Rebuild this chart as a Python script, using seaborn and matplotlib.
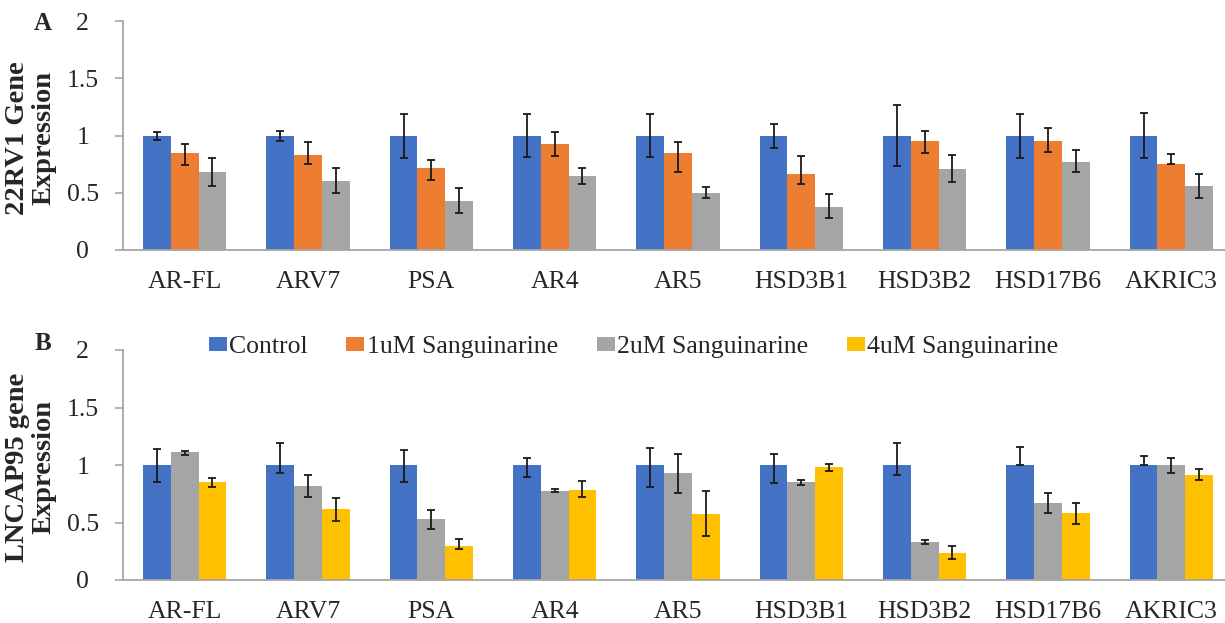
import numpy as np
import pandas as pd
import matplotlib
matplotlib.use("Agg")
import matplotlib.pyplot as plt
import seaborn as sns
from matplotlib.patches import Patch
from matplotlib.ticker import FuncFormatter

sns.set_style("white")
plt.rcParams['font.family'] = ['Liberation Serif', 'DejaVu Serif']

genes = ["AR-FL", "ARV7", "PSA", "AR4", "AR5", "HSD3B1", "HSD3B2", "HSD17B6", "AKRIC3"]
treatments = ["Control", "1uM Sanguinarine", "2uM Sanguinarine", "4uM Sanguinarine"]
colors = ["#4472C4", "#ED7D31", "#A5A5A5", "#FFC000"]

# Panel A: 22RV1 (Control, 1uM, 2uM)
a_ctrl = [1.0, 1.0, 1.0, 1.0, 1.0, 1.0, 1.0, 1.0, 1.0]
a_ctrl_lo = [0.04, 0.05, 0.2, 0.19, 0.19, 0.11, 0.27, 0.2, 0.2]
a_ctrl_hi = [0.03, 0.04, 0.19, 0.19, 0.19, 0.1, 0.27, 0.19, 0.2]
a_1um = [0.85, 0.83, 0.72, 0.925, 0.85, 0.66, 0.956, 0.948, 0.75]
a_1um_lo = [0.11, 0.08, 0.11, 0.1, 0.17, 0.08, 0.11, 0.09, 0.0]
a_1um_hi = [0.08, 0.115, 0.07, 0.105, 0.095, 0.16, 0.085, 0.116, 0.085]
a_2um = [0.68, 0.6, 0.43, 0.645, 0.5, 0.375, 0.71, 0.77, 0.56]
a_2um_lo = [0.12, 0.1, 0.11, 0.065, 0.05, 0.095, 0.12, 0.087, 0.104]
a_2um_hi = [0.12, 0.115, 0.11, 0.075, 0.05, 0.115, 0.12, 0.1, 0.106]

# Panel B: LNCAP95 (Control, 2uM, 4uM)
b_ctrl = [1.0, 1.0, 1.0, 1.0, 1.0, 1.0, 1.0, 1.0, 1.0]
b_ctrl_lo = [0.145, 0.07, 0.15, 0.1, 0.195, 0.16, 0.09, 0.0, 0.0]
b_ctrl_hi = [0.14, 0.19, 0.13, 0.064, 0.15, 0.1, 0.19, 0.16, 0.08]
b_2um = [1.11, 0.82, 0.53, 0.775, 0.93, 0.85, 0.333, 0.667, 1.0]
b_2um_lo = [0.02, 0.1, 0.09, 0.012, 0.17, 0.02, 0.017, 0.082, 0.07]
b_2um_hi = [0.015, 0.095, 0.08, 0.018, 0.17, 0.02, 0.017, 0.093, 0.06]
b_4um = [0.85, 0.616, 0.3, 0.785, 0.57, 0.98, 0.238, 0.58, 0.913]
b_4um_lo = [0.04, 0.105, 0.03, 0.065, 0.19, 0.03, 0.058, 0.09, 0.046]
b_4um_hi = [0.04, 0.095, 0.055, 0.075, 0.2, 0.03, 0.06, 0.092, 0.05]

W, H = 1225, 623
fig = plt.figure(figsize=(W / 100, H / 100), dpi=100)
ax1 = fig.add_axes([123 / W, 1 - 250 / H, 1110 / W, 229 / H])
ax2 = fig.add_axes([123 / W, 1 - 580 / H, 1110 / W, 230 / H])

axis_grey = "#a6a6a6"


def draw_panel(ax, series, names, ylabel):
    rows = []
    for vals, name in zip(series, names):
        for g, v in zip(genes, vals[0]):
            rows.append({"gene": g, "treatment": name, "value": v})
    df = pd.DataFrame(rows)
    pal = [colors[treatments.index(n)] for n in names]
    sns.barplot(data=df, x="gene", y="value", hue="treatment", hue_order=names,
                order=genes, palette=pal, saturation=1, width=0.675,
                errorbar=None, linewidth=0, legend=False, ax=ax)
    # error bars from the read-off low/high values
    for cont, (vals, lo, hi) in zip(ax.containers, series):
        xs = [b.get_x() + b.get_width() / 2 for b in cont]
        ax.errorbar(xs, vals, yerr=[lo, hi], fmt="none", ecolor="#1a1a1a",
                    elinewidth=1.3, capsize=3.2, capthick=1.3, zorder=5)

    ax.set_ylim(0, 2)
    ax.set_xlim(-0.5, 8.5)
    ax.set_yticks([0, 0.5, 1, 1.5, 2])
    ax.yaxis.set_major_formatter(FuncFormatter(lambda v, p: f"{v:g}"))
    ax.set_xticks(np.arange(-0.5, 9, 1), minor=True)
    ax.tick_params(axis="x", which="major", length=0, pad=15, labelsize=18.5)
    ax.tick_params(axis="x", which="minor", length=6, width=1.2, color=axis_grey)
    ax.tick_params(axis="y", length=6, width=1.2, color=axis_grey, pad=23, labelsize=18.5,
                   left=True)
    plt.setp(ax.get_yticklabels(), ha="center")
    for s in ["top", "right"]:
        ax.spines[s].set_visible(False)
    for s in ["left", "bottom"]:
        ax.spines[s].set_color(axis_grey)
        ax.spines[s].set_linewidth(1.3)
    ax.set_xlabel("")
    ax.set_ylabel(ylabel, fontsize=20.5, fontweight="bold", linespacing=1.1, va="center")
    ax.yaxis.set_label_coords(-0.083, 0.49)


draw_panel(ax1,
           [(a_ctrl, a_ctrl_lo, a_ctrl_hi), (a_1um, a_1um_lo, a_1um_hi), (a_2um, a_2um_lo, a_2um_hi)],
           ["Control", "1uM Sanguinarine", "2uM Sanguinarine"],
           "22RV1 Gene\nExpression")
draw_panel(ax2,
           [(b_ctrl, b_ctrl_lo, b_ctrl_hi), (b_2um, b_2um_lo, b_2um_hi), (b_4um, b_4um_lo, b_4um_hi)],
           ["Control", "2uM Sanguinarine", "4uM Sanguinarine"],
           "LNCAP95 gene\nExpression")

handles = [Patch(facecolor=c, edgecolor="none") for c in colors]
ax2.legend(handles, treatments, loc="center", bbox_to_anchor=(0.46, 1.013), ncol=4,
           frameon=False, fontsize=18.5, handlelength=0.7, handleheight=0.5,
           handletextpad=0.1, columnspacing=1.5, borderpad=0)

fig.text(43 / W, 1 - 23 / H, "A", fontsize=18, fontweight="bold", ha="center", va="center")
fig.text(43 / W, 1 - 344 / H, "B", fontsize=18, fontweight="bold", ha="center", va="center")

fig.savefig("out.png", dpi=100)
